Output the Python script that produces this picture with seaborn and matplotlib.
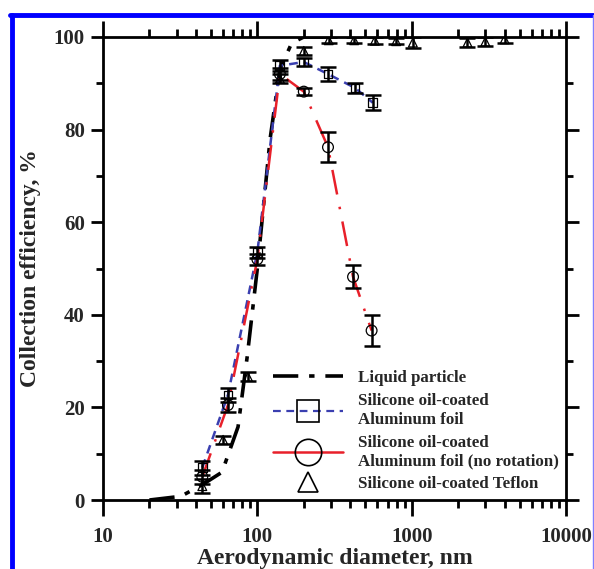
import numpy as np
import pandas as pd
import matplotlib
matplotlib.use("Agg")
import matplotlib.pyplot as plt
import seaborn as sns
from matplotlib.lines import Line2D
from matplotlib.ticker import FixedLocator, FuncFormatter, MultipleLocator, LogLocator, NullFormatter

# ---- data ----
liq_x = [20, 32, 45, 59, 75, 86, 100, 121, 140, 167, 200, 300]
liq_y = [0, 0.8, 3.5, 6, 15.8, 31, 50, 78, 93, 98.7, 100, 100]

al_x = [44, 64.5, 100, 140, 200, 287, 430, 560]
al_y = [7, 22.7, 53.5, 93.8, 94.6, 92, 89, 85.8]
al_err = [1.5, 1.5, 1.2, 1.2, 0.8, 1.6, 1.0, 1.6]

nr_x = [44, 64.5, 100, 140, 200, 287, 417, 550]
nr_y = [5, 20.5, 52, 92, 88.2, 76.2, 48.2, 36.6]
nr_err = [1.5, 1.5, 1.2, 1.2, 0.8, 3.2, 2.5, 3.3]

tf_x = [44, 60, 87, 140, 200, 290, 424, 577, 793, 1018, 2300, 3000, 4000]
tf_y = [3, 13, 26.6, 91, 97, 99.3, 99.3, 99.2, 99.1, 98.8, 98.8, 99, 99.5]
tf_err = [1.5, 0.8, 1.0, 1.0, 0.8, 0.7, 0.7, 0.7, 0.7, 1.2, 0.9, 0.9, 0.7]

labels = ["Liquid particle",
          "Silicone oil-coated\nAluminum foil",
          "Silicone oil-coated\nAluminum foil (no rotation)",
          "Silicone oil-coated Teflon"]
x_ticks = [10, 100, 1000, 10000]
y_ticks = [0, 20, 40, 60, 80, 100]

sns.set_style("ticks")
plt.rcParams["font.family"] = ["Liberation Serif", "DejaVu Serif"]
plt.rcParams["font.weight"] = "bold"

W, H = 594, 569
fig = plt.figure(figsize=(W / 100, H / 100), dpi=100)
ax = fig.add_axes([103 / W, 1 - 500 / H, 463 / W, 463 / H])

RED = "#e8202a"
BLUE = "#3a3fb0"

# lines
sns.lineplot(x=liq_x, y=liq_y, ax=ax, color="black", lw=2.6, sort=False,
             estimator=None, linestyle=(0, (7, 3, 1.5, 3)))
sns.lineplot(x=al_x, y=al_y, ax=ax, color=BLUE, lw=1.8, sort=False,
             estimator=None, linestyle=(0, (3.5, 2.5)))
sns.lineplot(x=nr_x, y=nr_y, ax=ax, color=RED, lw=1.8, sort=False,
             estimator=None, linestyle=(0, (10, 5, 1, 5)))

# error bars
ekw = dict(fmt="none", ecolor="black", elinewidth=1.8, capsize=5.5, capthick=1.8, zorder=3)
ax.errorbar(al_x, al_y, yerr=al_err, **ekw)
ax.errorbar(nr_x, nr_y, yerr=nr_err, **ekw)
ax.errorbar(tf_x, tf_y, yerr=tf_err, **ekw)

# markers
sns.scatterplot(x=al_x, y=al_y, ax=ax, marker="s", s=40, facecolor="none",
                edgecolor="black", linewidth=0.9, zorder=4)
sns.scatterplot(x=nr_x, y=nr_y, ax=ax, marker="o", s=60, facecolor="none",
                edgecolor="black", linewidth=0.9, zorder=4)
sns.scatterplot(x=tf_x, y=tf_y, ax=ax, marker="^", s=40, facecolor="none",
                edgecolor="black", linewidth=0.9, zorder=4)

ax.set_xscale("log")
ax.set_xlim(10, 10000)
ax.set_ylim(0, 100)

ax.xaxis.set_major_locator(FixedLocator(x_ticks))
ax.xaxis.set_major_formatter(FuncFormatter(lambda v, p: f"{int(round(v))}"))
ax.xaxis.set_minor_locator(LogLocator(base=10, subs=np.arange(2, 10)))
ax.xaxis.set_minor_formatter(NullFormatter())
ax.yaxis.set_major_locator(FixedLocator(y_ticks))
ax.yaxis.set_minor_locator(MultipleLocator(10))

for s in ax.spines.values():
    s.set_linewidth(2)
    s.set_color("black")
    s.set_visible(True)

ax.tick_params(axis="both", which="both", direction="out", top=True, right=True,
               labeltop=False, labelright=False, width=2, color="black")
ax.tick_params(axis="x", which="major", length=11.5, labelsize=15, pad=8)
ax.tick_params(axis="x", which="minor", length=6)
ax.tick_params(axis="y", which="major", length=9, labelsize=15, pad=4)
ax.tick_params(axis="y", which="minor", length=5)
for t in ax.get_xticklabels() + ax.get_yticklabels():
    t.set_fontweight("bold")

ax.set_xlabel("Aerodynamic diameter, nm", fontsize=17, fontweight="bold", labelpad=1)
ax.set_ylabel("Collection efficiency, %", fontsize=17, fontweight="bold", labelpad=9)

# legend
h_liq = Line2D([], [], color="black", lw=2.6, linestyle=(0, (7, 3, 1.5, 3)))
h_al = Line2D([], [], color=BLUE, lw=1.6, linestyle=(0, (3.5, 2.5)), marker="s",
              markersize=16, markerfacecolor="none", markeredgecolor="black", markeredgewidth=1.2)
h_nr = Line2D([], [], color=RED, lw=1.8, linestyle="-", marker="o",
              markersize=19, markerfacecolor="none", markeredgecolor="black", markeredgewidth=1.2)
h_tf = Line2D([], [], color="none", lw=0, marker="^", markersize=15,
              markerfacecolor="none", markeredgecolor="black", markeredgewidth=1.2)
leg = ax.legend([h_liq, h_al, h_nr, h_tf], labels, loc="upper left",
                bbox_to_anchor=(258 / W, 1 - 355 / H), bbox_transform=fig.transFigure,
                frameon=False, handlelength=4.1, handletextpad=0.9, labelspacing=0.42,
                prop={"family": "Liberation Serif", "weight": "bold", "size": 12.2})

# blue frame around figure
fig.add_artist(Line2D([12 / W, 12 / W], [0, 1 - 15 / H], transform=fig.transFigure,
                      color="#0000ff", lw=3.5))
fig.add_artist(Line2D([10 / W, 593 / W], [1 - 15 / H, 1 - 15 / H], transform=fig.transFigure,
                      color="#0000ff", lw=3.5))
fig.add_artist(Line2D([592.5 / W, 592.5 / W], [0, 1 - 15 / H], transform=fig.transFigure,
                      color="#8080ff", lw=1))

fig.savefig("out.png", dpi=100)
